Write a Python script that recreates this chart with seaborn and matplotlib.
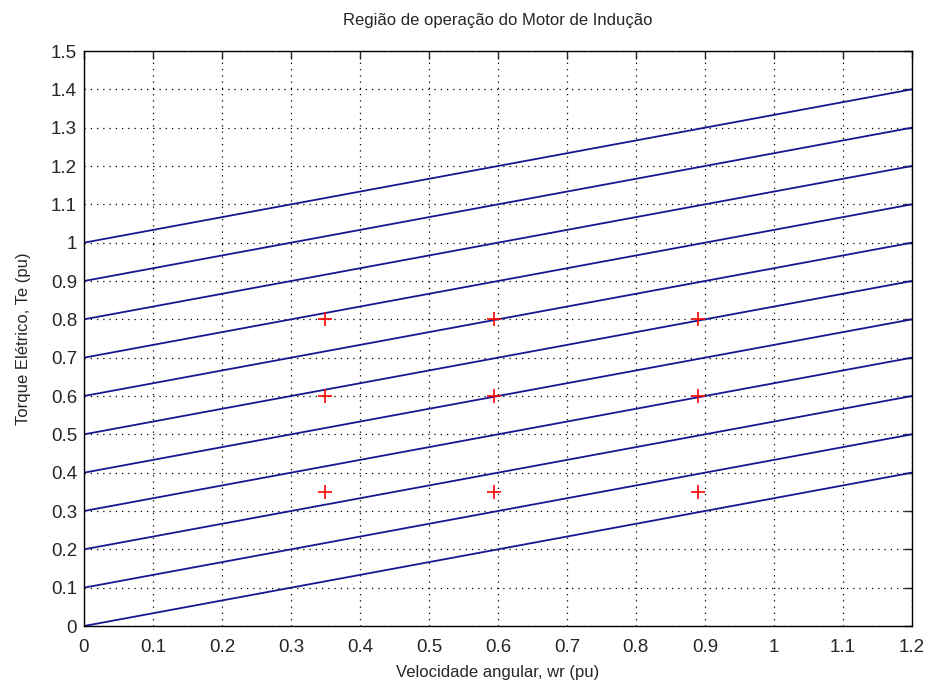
import numpy as np
import pandas as pd
import matplotlib
matplotlib.use("Agg")
import matplotlib.pyplot as plt
import seaborn as sns

# Data
speed_ends = [0.0, 1.2]
torque_start = [0.0, 0.1, 0.2, 0.3, 0.4, 0.5, 0.6, 0.7, 0.8, 0.9, 1.0]
torque_end = [0.4, 0.5, 0.6, 0.7, 0.8, 0.9, 1.0, 1.1, 1.2, 1.3, 1.4]

op_speed = [0.35, 0.35, 0.35, 0.595, 0.595, 0.595, 0.89, 0.89, 0.89]
op_torque = [0.35, 0.6, 0.8, 0.35, 0.6, 0.8, 0.35, 0.6, 0.8]

xticks = [0, 0.1, 0.2, 0.3, 0.4, 0.5, 0.6, 0.7, 0.8, 0.9, 1, 1.1, 1.2]
yticks = [0, 0.1, 0.2, 0.3, 0.4, 0.5, 0.6, 0.7, 0.8, 0.9, 1, 1.1, 1.2, 1.3, 1.4, 1.5]

rows = []
for i, (t0, t1) in enumerate(zip(torque_start, torque_end)):
    rows.append({"line": i, "wr": speed_ends[0], "Te": t0})
    rows.append({"line": i, "wr": speed_ends[1], "Te": t1})
lines = pd.DataFrame(rows)
points = pd.DataFrame({"wr": op_speed, "Te": op_torque})

sns.set_style("white")
plt.rcParams["font.family"] = ["Liberation Sans", "DejaVu Sans"]

fig = plt.figure(figsize=(9.27, 6.85), dpi=100)
ax = fig.add_axes([0.0906, 0.0861, 0.8930, 0.8394])

sns.lineplot(data=lines, x="wr", y="Te", units="line", estimator=None,
             color="#161690", linewidth=1.3, ax=ax)
sns.scatterplot(data=points, x="wr", y="Te", marker="+", color="red",
                s=110, linewidth=1.2, ax=ax, zorder=5)

ax.set_xlim(0, 1.2)
ax.set_ylim(0, 1.5)
ax.set_xticks(xticks)
ax.set_yticks(yticks)
ax.set_xticklabels([f"{v:g}" for v in xticks])
ax.set_yticklabels([f"{v:g}" for v in yticks])
ax.grid(True, linestyle=(0, (1, 4)), color="black", linewidth=0.9)
ax.tick_params(direction="in", length=6, width=1, top=True, right=True,
               labelsize=13.5)
ax.tick_params(axis="x", pad=9)
ax.tick_params(axis="y", pad=5)
for s in ax.spines.values():
    s.set_visible(True)
    s.set_color("black")
    s.set_linewidth(1)

ax.set_title("Região de operação do Motor de Indução", fontsize=12, pad=19)
ax.set_xlabel("Velocidade angular, wr (pu)", fontsize=12, labelpad=7)
ax.set_ylabel("Torque Elétrico, Te (pu)", fontsize=12, labelpad=14)

fig.savefig("out.png", dpi=100)
